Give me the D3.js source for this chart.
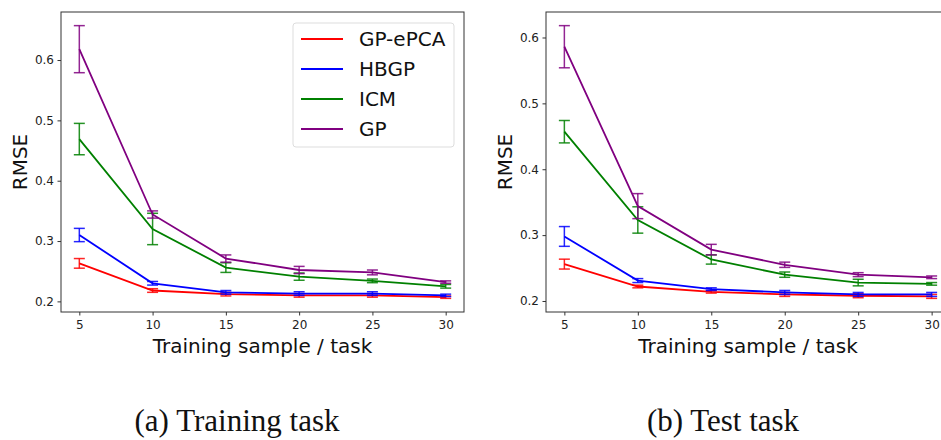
<!DOCTYPE html>
<html>
<head>
<meta charset="utf-8">
<script src="https://cdn.jsdelivr.net/npm/d3@7/dist/d3.min.js"></script>
<style>
  body { margin: 0; background: #fff; }
  svg { display: block; }
  .tick text { font-family: "DejaVu Sans", sans-serif; font-size: 12px; fill: #222; }
</style>
</head>
<body>
<div id="chart"></div>
<script>
// training samples per task
var samples = [5, 10, 15, 20, 25, 30];
var methods = ["GP-ePCA", "HBGP", "ICM", "GP"];
var colors = ["#ff0000", "#0000ff", "#008000", "#800080"];
var yTicks = [0.2, 0.3, 0.4, 0.5, 0.6];
var xTicks = [5, 10, 15, 20, 25, 30];

// (a) training task: mean RMSE and error bar half-widths
var trainMean = [
  [0.263, 0.218, 0.212, 0.210, 0.210, 0.207],
  [0.310, 0.230, 0.215, 0.213, 0.213, 0.210],
  [0.469, 0.320, 0.256, 0.241, 0.234, 0.225],
  [0.618, 0.344, 0.271, 0.252, 0.248, 0.232]
];
var trainErr = [
  [0.008, 0.003, 0.003, 0.003, 0.003, 0.002],
  [0.011, 0.003, 0.003, 0.003, 0.003, 0.002],
  [0.026, 0.026, 0.008, 0.006, 0.003, 0.003],
  [0.039, 0.006, 0.006, 0.006, 0.004, 0.002]
];

// (b) test task
var testMean = [
  [0.256, 0.222, 0.214, 0.210, 0.208, 0.207],
  [0.298, 0.231, 0.218, 0.213, 0.210, 0.210],
  [0.457, 0.323, 0.263, 0.240, 0.228, 0.226],
  [0.586, 0.344, 0.278, 0.255, 0.240, 0.236]
];
var testErr = [
  [0.0075, 0.002, 0.002, 0.003, 0.003, 0.003],
  [0.015, 0.003, 0.002, 0.003, 0.003, 0.003],
  [0.017, 0.020, 0.007, 0.004, 0.005, 0.002],
  [0.032, 0.019, 0.008, 0.004, 0.003, 0.002]
];

var captions = ["(a) Training task", "(b) Test task"];

var W = 941, H = 440;
var svg = d3.select("#chart").append("svg")
    .attr("width", W).attr("height", H);

var panels = [
  { mean: trainMean, err: trainErr, left: 61, right: 464, legend: true, caption: captions[0], capX: 237 },
  { mean: testMean, err: testErr, left: 546, right: 950, legend: false, caption: captions[1], capX: 723 }
];
var plotTop = 12, plotBottom = 312;

panels.forEach(function(p) {
  var lo = d3.min(p.mean, function(row, i) { return d3.min(row, function(v, j) { return v - p.err[i][j]; }); }),
      hi = d3.max(p.mean, function(row, i) { return d3.max(row, function(v, j) { return v + p.err[i][j]; }); }),
      pad = (hi - lo) * 0.05;

  var x = d3.scaleLinear().domain([3.75, 31.25]).range([p.left, p.right]);
  var y = d3.scaleLinear().domain([lo - pad, hi + pad]).range([plotBottom, plotTop]);

  var g = svg.append("g");

  // axes
  g.append("g")
    .attr("transform", "translate(0," + plotBottom + ")")
    .call(d3.axisBottom(x).tickValues(xTicks).tickSize(3.5).tickPadding(5).tickFormat(d3.format("d")))
    .call(function(a) { a.select(".domain").remove(); a.selectAll("line").attr("stroke", "#333"); });
  g.append("g")
    .attr("transform", "translate(" + p.left + ",0)")
    .call(d3.axisLeft(y).tickValues(yTicks).tickSize(3.5).tickPadding(3.5).tickFormat(d3.format(".1f")))
    .call(function(a) { a.select(".domain").remove(); a.selectAll("line").attr("stroke", "#333"); });

  // series
  var line = d3.line().x(function(d) { return x(d.s); }).y(function(d) { return y(d.m); });
  p.mean.forEach(function(row, i) {
    var pts = row.map(function(m, j) { return { s: samples[j], m: m, e: p.err[i][j] }; });
    var sg = g.append("g").attr("stroke", colors[i]).attr("fill", "none");
    sg.append("path").datum(pts).attr("d", line).attr("stroke-width", 1.8);
    var eb = sg.selectAll("g.eb").data(pts).enter().append("g")
        .attr("class", "eb").attr("stroke-width", 1.5).attr("stroke-opacity", 0.85);
    eb.append("line")
      .attr("x1", function(d) { return x(d.s); }).attr("x2", function(d) { return x(d.s); })
      .attr("y1", function(d) { return y(d.m - d.e); }).attr("y2", function(d) { return y(d.m + d.e); });
    [-1, 1].forEach(function(sgn) {
      eb.append("line")
        .attr("x1", function(d) { return x(d.s) - 5.5; }).attr("x2", function(d) { return x(d.s) + 5.5; })
        .attr("y1", function(d) { return y(d.m + sgn * d.e); }).attr("y2", function(d) { return y(d.m + sgn * d.e); });
    });
  });

  // frame
  g.append("rect")
    .attr("x", p.left).attr("y", plotTop)
    .attr("width", p.right - p.left).attr("height", plotBottom - plotTop)
    .attr("fill", "none").attr("stroke", "#333").attr("stroke-width", 1);

  // labels
  g.append("text")
    .attr("transform", "translate(" + (p.left - 34) + "," + ((plotTop + plotBottom) / 2) + ") rotate(-90)")
    .attr("text-anchor", "middle")
    .style("font-family", "DejaVu Sans, sans-serif").style("font-size", "20px").attr("fill", "#111")
    .text("RMSE");
  g.append("text")
    .attr("x", (p.left + p.right) / 2).attr("y", 353)
    .attr("text-anchor", "middle")
    .style("font-family", "DejaVu Sans, sans-serif").style("font-size", "20px").attr("fill", "#111")
    .text("Training sample / task");
  g.append("text")
    .attr("x", p.capX).attr("y", 431)
    .attr("text-anchor", "middle")
    .style("font-family", "Liberation Serif, serif").style("font-size", "31px").attr("fill", "#111")
    .text(p.caption);

  if (p.legend) {
    var lg = g.append("g").attr("transform", "translate(293,23)");
    lg.append("rect").attr("width", 161).attr("height", 124).attr("rx", 3)
      .attr("fill", "#fff").attr("fill-opacity", 0.8).attr("stroke", "#ddd");
    methods.forEach(function(name, i) {
      var yy = 16 + i * 30;
      lg.append("line").attr("x1", 8).attr("x2", 50).attr("y1", yy).attr("y2", yy)
        .attr("stroke", colors[i]).attr("stroke-width", 1.8);
      lg.append("text").attr("x", 66).attr("y", yy + 7)
        .style("font-family", "DejaVu Sans, sans-serif").style("font-size", "20px").attr("fill", "#111")
        .text(name);
    });
  }
});
</script>
</body>
</html>
